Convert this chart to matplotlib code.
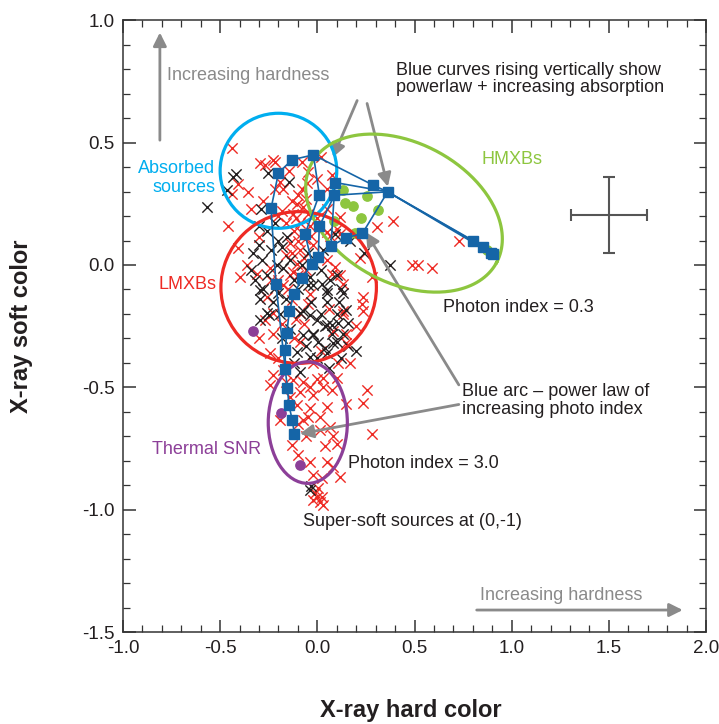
import numpy as np
import matplotlib
matplotlib.use('Agg')
import matplotlib.pyplot as plt
from matplotlib.patches import Ellipse
from matplotlib.ticker import MultipleLocator, FormatStrFormatter

plt.rcParams['font.family'] = ['Liberation Sans', 'DejaVu Sans']

# source colours: (hard, soft)
red_x = [(-0.44, 0.48), (-0.295, 0.415), (-0.218, 0.42), (-0.27, 0.41), (-0.226, 0.428),
         (-0.144, 0.384), (-0.046, 0.38), (-0.003, 0.353), (-0.055, 0.333), (0.074, 0.367),
         (-0.08, 0.31), (-0.098, 0.285), (-0.175, 0.31), (-0.218, 0.31), (-0.19, 0.34),
         (-0.072, 0.237), (-0.106, 0.25), (-0.124, 0.21), (0.048, 0.31), (0.048, 0.23),
         (0.117, 0.196), (0.306, 0.156), (0.1, 0.149), (0.065, 0.12), (-0.355, 0.30),
         (-0.44, 0.29), (-0.34, 0.227), (-0.41, 0.33), (0.39, 0.18), (0.73, 0.10),
         (0.486, 0.0), (0.52, 0.0), (0.59, -0.014), (-0.30, 0.115), (-0.14, 0.09),
         (-0.09, 0.06), (-0.106, 0.006), (-0.124, -0.028), (-0.31, -0.035), (-0.243, -0.014),
         (-0.175, -0.083), (-0.26, -0.13), (0.09, -0.008), (0.117, -0.042), (0.074, -0.035),
         (0.134, -0.076), (0.134, -0.19), (-0.13, -0.144), (-0.226, -0.198), (-0.09, -0.198),
         (0.048, 0.135), (0.117, 0.128), (-0.063, 0.108), (0.235, -0.13), (0.23, -0.16),
         (0.235, -0.19), (0.13, -0.2), (0.15, -0.28), (0.15, -0.32), (0.106, -0.40),
         (0.17, -0.40), (0.03, -0.46), (-0.04, -0.5), (0.255, -0.51), (0.235, -0.565),
         (0.28, -0.69), (0.15, -0.57), (-0.27, -0.225), (-0.226, -0.28), (-0.243, -0.36),
         (-0.175, -0.43), (-0.226, -0.45), (-0.243, -0.49), (-0.124, -0.47), (-0.072, -0.477),
         (-0.003, -0.464), (0.03, -0.498), (-0.09, -0.518), (-0.02, -0.532), (0.074, -0.511),
         (-0.106, -0.573), (-0.038, -0.586), (0.048, -0.58), (-0.072, -0.634), (0.014, -0.62),
         (-0.19, -0.634), (0.014, -0.675), (0.065, -0.661), (0.082, -0.70), (-0.09, -0.314),
         (-0.13, -0.736), (-0.098, -0.777), (-0.038, -0.804), (0.048, -0.804), (0.082, -0.825),
         (0.117, -0.866), (0.023, -0.872), (0.005, -0.913), (-0.012, -0.933), (0.023, -0.947),
         (0.014, -0.968), (0.1, -0.73), (0.0, -0.95), (0.03, -0.98), (-0.02, -0.96),
         (-0.46, 0.16), (-0.41, 0.07), (-0.36, 0.0), (-0.40, -0.05), (-0.30, -0.30),
         (-0.20, 0.20), (-0.16, 0.17), (-0.12, 0.14), (-0.04, 0.16), (-0.02, 0.08),
         (-0.16, 0.04), (-0.06, -0.02), (-0.20, -0.06), (-0.04, -0.12), (0.06, -0.18),
         (-0.18, -0.24), (-0.12, -0.30), (0.02, -0.35), (-0.20, -0.38), (0.10, -0.46),
         (0.20, -0.25), (0.28, -0.05), (0.22, 0.03), (-0.28, 0.26), (-0.08, 0.42),
         (0.02, 0.44), (-0.14, -0.54), (-0.06, -0.70), (0.04, -0.74), (-0.02, -0.86),
         (-0.11, 0.19), (-0.08, 0.13), (-0.13, 0.05), (-0.05, 0.21), (-0.10, -0.04),
         (-0.15, -0.10), (-0.07, -0.24), (0.05, 0.02), (-0.02, -0.40), (-0.10, -0.65),
         (-0.09, 0.17), (-0.06, 0.27), (-0.13, 0.26), (-0.03, 0.12), (-0.10, 0.10),
         (-0.07, 0.03), (-0.14, -0.04), (-0.05, -0.16), (0.00, 0.19), (-0.18, 0.22),
         (-0.24, -0.06), (-0.11, -0.22), (0.08, -0.27), (-0.16, -0.48), (-0.05, -0.62)]

black_x = [(-0.57, 0.235), (-0.463, 0.308), (-0.432, 0.36), (-0.42, 0.37), (-0.252, 0.376),
           (-0.144, 0.34), (-0.30, 0.16), (-0.26, 0.14), (-0.22, 0.17), (-0.33, 0.047),
           (-0.286, 0.02), (-0.32, -0.062), (-0.295, -0.137), (-0.157, 0.115), (-0.183, 0.074),
           (-0.14, 0.02), (-0.175, -0.014), (-0.038, -0.049), (-0.02, -0.083), (0.023, -0.076),
           (0.048, -0.103), (0.065, -0.062), (0.048, -0.15), (-0.03, -0.15), (0.15, -0.185),
           (-0.072, -0.19), (-0.218, -0.096), (-0.25, -0.205), (0.09, 0.128), (-0.038, -0.205),
           (0.074, -0.246), (-0.072, -0.287), (0.005, -0.314), (0.082, -0.32), (-0.106, -0.355),
           (-0.09, -0.437), (0.048, -0.36), (0.108, -0.239), (-0.038, -0.92), (-0.03, -0.905),
           (0.374, 0.0), (-0.20, 0.10), (-0.24, 0.06), (-0.21, 0.0), (-0.26, -0.04),
           (-0.23, -0.15), (-0.19, -0.20), (-0.12, -0.06), (-0.10, -0.10), (-0.08, 0.0),
           (-0.05, 0.05), (0.02, -0.02), (0.10, -0.04), (0.12, -0.10), (0.10, -0.20),
           (0.13, -0.28), (0.04, -0.25), (-0.02, -0.28), (-0.14, -0.26), (-0.18, -0.30),
           (0.00, -0.38), (0.06, -0.42), (-0.12, -0.40), (0.16, -0.33), (0.20, -0.35),
           (0.12, -0.38), (-0.30, 0.08), (-0.34, -0.02), (-0.28, -0.10), (0.17, 0.10),
           (0.24, 0.05), (0.03, 0.06), (-0.16, -0.14), (0.02, -0.20), (-0.06, -0.33),
           (0.11, -0.15), (-0.29, 0.23), (-0.295, -0.103), (-0.2, -0.115), (-0.048, -0.083),
           (0.05, -0.115), (0.13, -0.115), (-0.09, -0.197), (0.0, -0.225), (0.05, -0.246),
           (-0.02, -0.287), (0.074, -0.28), (0.1, -0.315), (0.04, -0.34), (-0.038, -0.376),
           (0.157, -0.237), (-0.26, -0.197), (-0.295, -0.225)]

hmxb_dots = [(0.134, 0.308), (0.257, 0.281), (0.143, 0.255), (0.182, 0.24), (0.314, 0.224),
             (0.225, 0.194), (0.086, 0.179), (0.194, 0.129), (0.872, 0.06)]
snr_dots = [(-0.332, -0.27), (-0.185, -0.604), (-0.089, -0.818)]

# model tracks (power law, photon index / absorption)
arc_track = [(-0.118, -0.69), (-0.129, -0.634), (-0.146, -0.573), (-0.154, -0.502),
             (-0.165, -0.427), (-0.165, -0.348), (-0.157, -0.276), (-0.144, -0.19),
             (-0.12, -0.119), (-0.077, -0.053), (-0.027, 0.006), (0.005, 0.031),
             (0.07, 0.077), (0.148, 0.111), (0.232, 0.129)]
abs_tracks = [
    [(-0.165, -0.427), (-0.213, -0.078), (-0.238, 0.231), (-0.20, 0.376), (-0.13, 0.43),
     (-0.02, 0.45), (0.288, 0.326), (0.362, 0.299), (0.803, 0.099), (0.892, 0.049)],
    [(-0.027, 0.006), (-0.063, 0.126), (0.01, 0.288), (-0.02, 0.45)],
    [(0.005, 0.031), (0.01, 0.158), (0.088, 0.285), (0.362, 0.299), (0.905, 0.043)],
    [(0.07, 0.077), (0.091, 0.337), (0.362, 0.299), (0.85, 0.075)],
    [(0.232, 0.129), (0.362, 0.299)],
]

err_center = (1.5, 0.203)
err_x, err_y = 0.195, 0.155

RED, BLACK, BLUE = '#ee2a24', '#231f20', '#1565a7'
GREEN, CYAN, PURPLE, GREY = '#8dc63f', '#00aeef', '#8c3f98', '#8a8a8a'

fig = plt.figure(figsize=(7.19, 7.24), dpi=100)
ax = fig.add_axes([0.171, 0.127, 0.811, 0.845])
ax.set_xlim(-1.0, 2.0)
ax.set_ylim(-1.5, 1.0)

rx, ry = zip(*red_x)
bx, by = zip(*black_x)
ax.scatter(rx, ry, marker='x', s=55, color=RED, linewidths=1.0, zorder=2)
ax.scatter(bx, by, marker='x', s=55, color=BLACK, linewidths=1.0, zorder=2)

gx, gy = zip(*hmxb_dots)
ax.scatter(gx, gy, s=45, color=GREEN, zorder=3)
px, py = zip(*snr_dots)
ax.scatter(px, py, s=45, color=PURPLE, zorder=3)

# ellipses around source classes
ax.add_patch(Ellipse((-0.20, 0.385), 0.60, 0.47, fill=False, ec=CYAN, lw=2.3, zorder=4))
ax.add_patch(Ellipse((-0.096, -0.092), 0.80, 0.62, fill=False, ec=RED, lw=2.3, zorder=4))
ax.add_patch(Ellipse((-0.049, -0.644), 0.407, 0.497, fill=False, ec=PURPLE, lw=2.3, zorder=4))

# tilted HMXB ellipse, built in screen-proportional units
pos = ax.get_position()
xpix = pos.width * fig.get_figwidth() / 3.0
ypix = pos.height * fig.get_figheight() / 2.5
ratio = ypix / xpix
t = np.linspace(0, 2 * np.pi, 300)
a, b, th = 0.54, 0.36, np.radians(-28)
u, v = a * np.cos(t), b * np.sin(t)
ex = 0.446 + u * np.cos(th) - v * np.sin(th)
ey = 0.212 + (u * np.sin(th) + v * np.cos(th)) / ratio
ax.plot(ex, ey, color=GREEN, lw=2.3, zorder=4)

for tr in abs_tracks + [arc_track]:
    tx, ty = zip(*tr)
    ax.plot(tx, ty, color=BLUE, lw=1.2, zorder=5)
ax.plot(*zip(*arc_track), ls='none', marker='s', ms=7.5, color=BLUE, zorder=6)
sq = sorted(set(p for tr in abs_tracks for p in tr) - set(arc_track))
ax.plot(*zip(*sq), ls='none', marker='s', ms=7.5, color=BLUE, zorder=6)

ax.errorbar(err_center[0], err_center[1], xerr=err_x, yerr=err_y, fmt='none',
            ecolor='#555555', elinewidth=1.5, capsize=4, capthick=1.5)

# labels
fs = 13
ax.text(-0.525, 0.355, 'Absorbed\nsources', color=CYAN, fontsize=fs, ha='right',
        va='center', linespacing=1.15)
ax.text(-0.67, -0.08, 'LMXBs', color=RED, fontsize=fs, ha='center', va='center')
ax.text(-0.57, -0.755, 'Thermal SNR', color=PURPLE, fontsize=fs, ha='center', va='center')
ax.text(1.0, 0.43, 'HMXBs', color=GREEN, fontsize=fs, ha='center', va='center')

arrow = dict(arrowstyle='-|>', color=GREY, lw=2, mutation_scale=20, shrinkA=0, shrinkB=0)
ax.annotate('', xy=(-0.81, 0.95), xytext=(-0.81, 0.51), arrowprops=arrow)
ax.text(-0.775, 0.775, 'Increasing hardness', color=GREY, fontsize=fs, va='center')
ax.annotate('', xy=(1.88, -1.41), xytext=(0.82, -1.41), arrowprops=arrow)
ax.text(0.835, -1.352, 'Increasing hardness', color=GREY, fontsize=fs, va='center')

txt = '#231f20'
ax.text(0.405, 0.76, 'Blue curves rising vertically show\npowerlaw + increasing absorption',
        color=txt, fontsize=fs, va='center', linespacing=1.05)
ax.annotate('', xy=(0.08, 0.44), xytext=(0.205, 0.672), arrowprops=arrow)
ax.annotate('', xy=(0.363, 0.32), xytext=(0.256, 0.66), arrowprops=arrow)

ax.text(0.645, -0.172, 'Photon index = 0.3', color=txt, fontsize=fs, va='center')
ax.text(0.745, -0.553, 'Blue arc \u2013 power law of\nincreasing photo index',
        color=txt, fontsize=fs, va='center', linespacing=1.05)
ax.annotate('', xy=(0.25, 0.134), xytext=(0.728, -0.49), arrowprops=arrow)
ax.annotate('', xy=(-0.09, -0.69), xytext=(0.728, -0.57), arrowprops=arrow)
ax.text(0.16, -0.81, 'Photon index = 3.0', color=txt, fontsize=fs, va='center')
ax.text(-0.075, -1.05, 'Super-soft sources at (0,-1)', color=txt, fontsize=fs, va='center')

# axes styling
ax.xaxis.set_major_locator(MultipleLocator(0.5))
ax.xaxis.set_minor_locator(MultipleLocator(0.1))
ax.yaxis.set_major_locator(MultipleLocator(0.5))
ax.yaxis.set_minor_locator(MultipleLocator(0.1))
ax.tick_params(which='both', direction='in', top=True, right=True, color='#333333',
               labelsize=13.5, labelcolor='#231f20', pad=6)
ax.tick_params(which='major', length=9, width=1.1)
ax.tick_params(which='minor', length=5, width=0.9)
ax.xaxis.set_major_formatter(FormatStrFormatter('%.1f'))
ax.yaxis.set_major_formatter(FormatStrFormatter('%.1f'))
for s in ax.spines.values():
    s.set_color('#333333')
    s.set_linewidth(1.1)

fig.text(0.572, 0.018, 'X-ray hard color', fontsize=17, fontweight='bold',
         ha='center', va='center', color='#231f20')
fig.text(0.03, 0.55, 'X-ray soft color', fontsize=17, fontweight='bold',
         ha='center', va='center', rotation=90, color='#231f20')

fig.savefig('out.png', dpi=100)
